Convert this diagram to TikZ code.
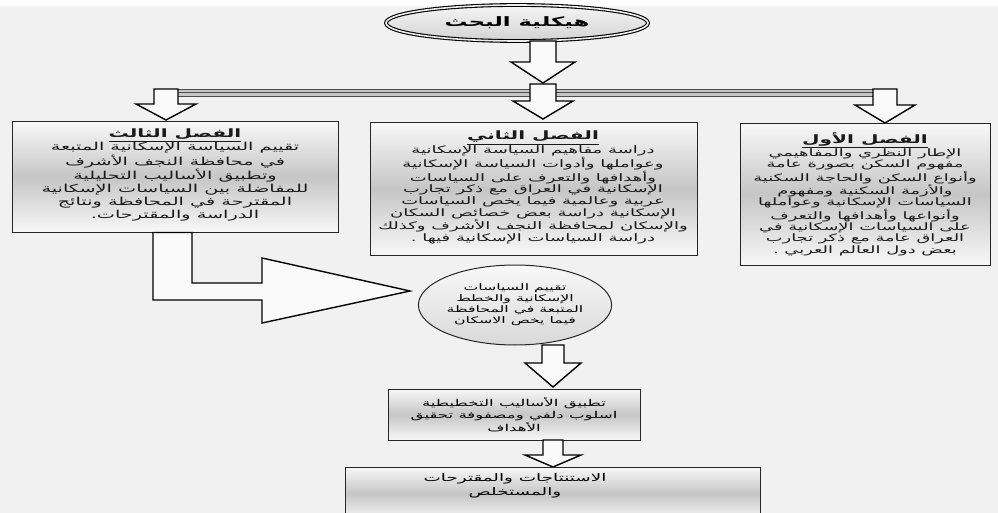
\documentclass[tikz,border=0pt]{standalone}
\usepackage{fontspec}
\newfontfamily\arabicfont[Script=Arabic]{DejaVu Sans}
\newfontfamily\arabicwide[Script=Arabic, FakeStretch=1.75]{DejaVu Sans}
\TeXXeTstate=1
\usetikzlibrary{shapes.geometric}
\newcommand{\AR}[1]{\beginR #1\endR}
\newcommand{\ART}[1]{\underline{\hbox{\bfseries\fontsize{11.5}{12}\selectfont\beginR #1\endR}}}
\tikzset{
  chapbox/.style={draw=black!85, line width=1pt, top color=gray!6, bottom color=gray!6, middle color=gray!45, inner sep=0pt},
  chaptext/.style={align=center, anchor=north, inner sep=0pt, text=black!90, font=\arabicwide\fontsize{10.2}{11.2}\selectfont},
  blockarrow/.style={draw=black, line width=1.4pt, fill=gray!4, line join=miter},
  ovalbox/.style={ellipse, draw=black!85, line width=1pt, top color=gray!5, bottom color=gray!30, inner sep=0pt},
}
\newcommand{\downblock}[6]{% x, ytop, yneck, ytip, stem half, head half
  \draw[blockarrow] ({#1-#5},#2) -- ({#1+#5},#2) -- ({#1+#5},#3) -- ({#1+#6},#3) -- (#1,#4) -- ({#1-#6},#3) -- ({#1-#5},#3) -- cycle;}
\begin{document}
\begin{tikzpicture}[x=1pt, y=-1pt]
  \useasboundingbox (0,0) rectangle (998,513);
  \fill[gray!11] (0,0) rectangle (998,513);
  \fill[white] (0,0) rectangle (998,6);

  % title ellipse
  \node[ellipse, draw=black, line width=1.1pt, double=gray!15, double distance=1.6pt,
        top color=gray!8, bottom color=gray!35, minimum width=262pt, minimum height=36pt,
        font=\arabicwide\fontsize{13}{15}\selectfont\bfseries] (title) at (517,23) {\AR{هيكلية البحث}};

  % connector bar
  \fill[gray!45] (154,89) rectangle (897,96);
  \draw[black!70, line width=0.5pt] (154,89) -- (897,89) (178,92.5) -- (873,92.5) (178,96) -- (873,96);

  % arrows from title
  \downblock{543}{41}{62}{83}{13}{32}
  \downblock{543}{84}{101}{119}{13}{30}
  \downblock{166}{89}{104}{120}{12}{30}
  \downblock{885}{89}{105}{123}{12}{30}

  % chapter boxes
  \node[chapbox, minimum width=250pt, minimum height=141pt] (c1) at (865,194.5) {};
  \node[chapbox, minimum width=327pt, minimum height=132pt] (c2) at (533.5,189) {};
  \node[chapbox, minimum width=326pt, minimum height=110pt] (c3) at (175,177) {};

  \node[chaptext] (t1) at (865,132) {\ART{الفصل الأول}\\
    \AR{الإطار النظري والمفاهيمي}\\
    \AR{مفهوم السكن بصورة عامة}\\
    \AR{وأنواع السكن والحاجة السكنية}\\
    \AR{والأزمة السكنية ومفهوم}\\
    \AR{السياسات الإسكانية وعواملها}\\
    \AR{وأنواعها وأهدافها والتعرف}\\
    \AR{على السياسات الإسكانية في}\\
    \AR{العراق عامة مع ذكر تجارب}\\
    \AR{بعض دول العالم العربي .}};

  \node[chaptext, font=\arabicwide\fontsize{10.3}{11.7}\selectfont] (t2) at (533,131) {\ART{الفصل الثاني}\\
    \AR{دراسة مفاهيم السياسة الإسكانية}\\
    \AR{وعواملها وأدوات السياسة الإسكانية}\\
    \AR{وأهدافها والتعرف على السياسات}\\
    \AR{الإسكانية في العراق مع ذكر تجارب}\\
    \AR{عربية وعالمية فيما يخص السياسات}\\
    \AR{الإسكانية دراسة بعض خصائص السكان}\\
    \AR{والإسكان لمحافظة النجف الأشرف وكذلك}\\
    \AR{دراسة السياسات الإسكانية فيها .}};

  \node[chaptext, font=\arabicwide\fontsize{11}{13}\selectfont] (t3) at (175,129) {\ART{الفصل الثالث}\\
    \AR{تقييم السياسة الإسكانية المتبعة}\\
    \AR{في محافظة النجف الأشرف}\\
    \AR{وتطبيق الأساليب التحليلية}\\
    \AR{للمفاضلة بين السياسات الإسكانية}\\
    \AR{المقترحة في المحافظة ونتائج}\\
    \AR{الدراسة والمقترحات.}};

  % L-shaped arrow from chapter 3
  \draw[blockarrow] (c3.south -| 153,0) -- (c3.south -| 192,0) -- (192,283) -- (262,283) -- (262,258)
        -- (410,291) -- (262,323) -- (262,300) -- (153,300) -- cycle;

  % evaluation ellipse
  \node[ovalbox, minimum width=180pt, minimum height=80pt, align=center,
        font=\arabicwide\fontsize{9}{11}\selectfont] (ev) at (515,305)
        {\AR{تقييم السياسات}\\ \AR{الإسكانية والخطط}\\ \AR{المتبعة في المحافظة}\\ \AR{فيما يخص الاسكان}};

  \downblock{553}{345}{363}{387}{11}{28}

  % planning methods box
  \node[chapbox, minimum width=252pt, minimum height=51pt, align=center, inner sep=0pt,
        font=\arabicwide\fontsize{9.5}{12.5}\selectfont] (pm) at (514,414.5)
        {\AR{تطبيق الأساليب التخطيطية}\\ \AR{اسلوب دلفي ومصفوفة تحقيق}\\ \AR{الأهداف}};

  \downblock{553}{440}{455}{467}{10}{28}

  % conclusions box
  \draw[chapbox] (345,467) rectangle (760,520);
  \node[align=center, inner sep=0pt, font=\arabicwide\fontsize{10.5}{14}\selectfont] (cc) at (515,486)
        {\AR{الاستنتاجات والمقترحات}\\ \AR{والمستخلص}};
\end{tikzpicture}
\end{document}
